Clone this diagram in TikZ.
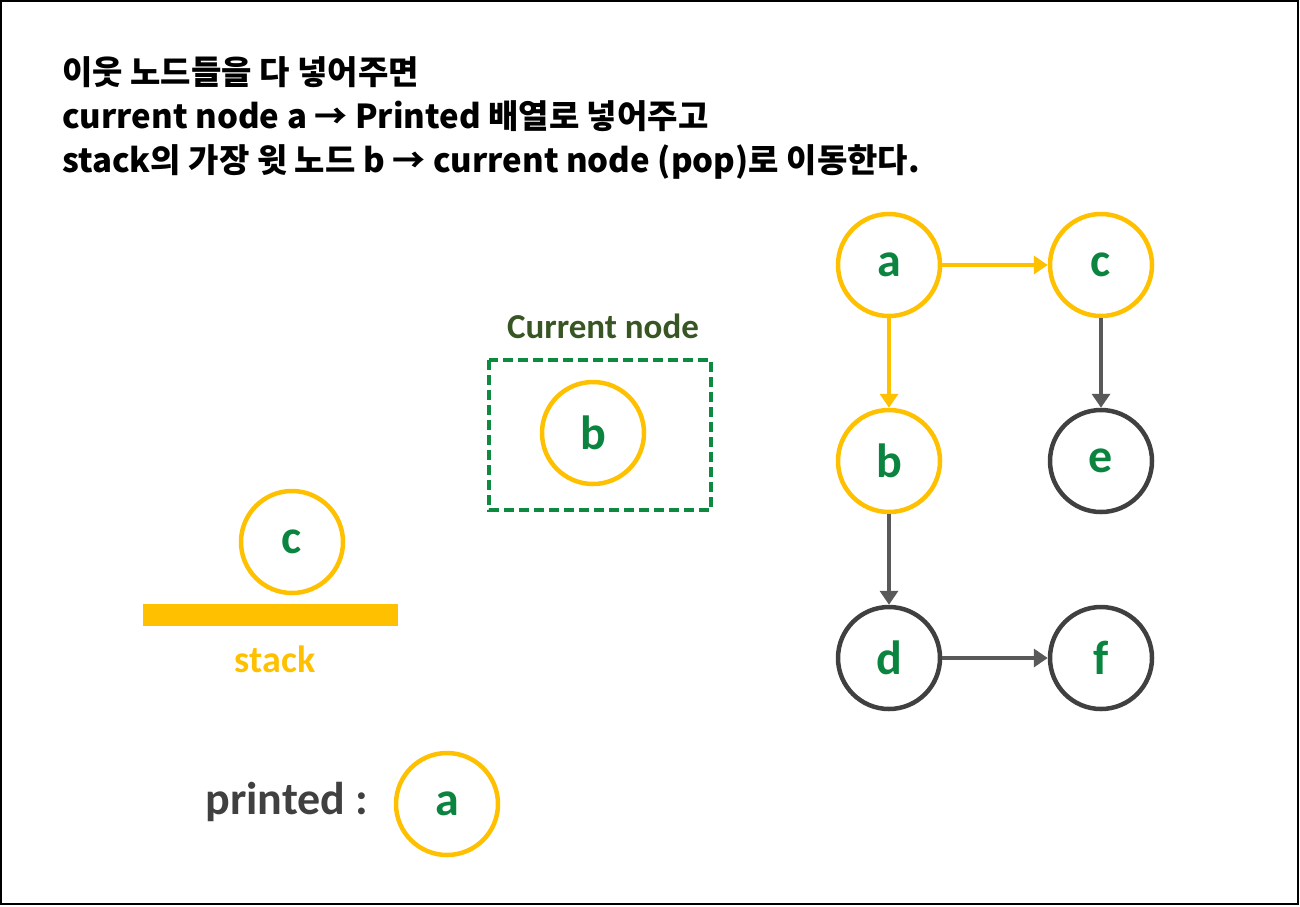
\documentclass[tikz,border=0pt]{standalone}
\usepackage{fontspec}
\setmainfont{Carlito}
\newfontfamily\kr{Noto Sans CJK KR}
\usetikzlibrary{arrows.meta}
\definecolor{ylw}{HTML}{FFC000}
\definecolor{grn}{HTML}{0B8440}
\definecolor{olive}{HTML}{375623}
\definecolor{dgray}{HTML}{404040}
\definecolor{agray}{HTML}{595959}
\definecolor{boxgrn}{HTML}{0E8A40}
\tikzset{
  yn/.style={circle, draw=ylw, line width=4.5pt, minimum size=102pt, inner sep=0pt, text=grn, font=\bfseries\fontsize{48}{48}\selectfont},
  gn/.style={yn, draw=dgray},
  yarr/.style={draw=ylw, line width=4pt, -{Triangle[length=14pt,width=18pt]}},
  garr/.style={draw=agray, line width=4pt, -{Triangle[length=14pt,width=18pt]}},
  hdr/.style={anchor=base west, inner sep=0pt, font=\kr\bfseries\fontsize{33}{33}\selectfont},
}
\begin{document}
\begin{tikzpicture}[x=1pt,y=-1pt]
\useasboundingbox (0,0) rectangle (1300,906);
\draw[line width=2pt] (1,1) rectangle (1298,904);
% header
\node[hdr] (h1) at (62,84) {이웃 노드들을 다 넣어주면};
\node[hdr] (h2) at (62,128) {current node a → Printed 배열로 넣어주고};
\node[hdr] (h3) at (62,172) {stack의 가장 윗 노드 b → current node (pop)로 이동한다.};
% graph
\node[yn] (a) at (889,265) {a};
\node[yn] (c) at (1101,265) {c};
\node[yn] (b) at (889,461) {b};
\node[gn] (e) at (1101,461) {e};
\node[gn] (d) at (889,658) {d};
\node[gn] (f) at (1101,658) {f};
\draw[yarr] (a) -- (c);
\draw[yarr] (a) -- (b);
\draw[garr] (c) -- (e);
\draw[garr] (b) -- (d);
\draw[garr] (d) -- (f);
% current node
\node[font=\bfseries\fontsize{35}{35}\selectfont, text=olive] (cl) at (603,326) {Current node};
\draw[boxgrn, line width=3.2pt, dash pattern=on 10pt off 5pt] (489,360) rectangle (711,510);
\node[yn] (cb) at (593,433) {b};
% stack
\node[yn] (sc) at (292,542) {c};
\fill[ylw] (143,604) rectangle (398,626);
\node[font=\bfseries\fontsize{38}{38}\selectfont, text=ylw] (sl) at (275,659) {stack};
% printed
\node[font=\bfseries\fontsize{46}{46}\selectfont, text=dgray] (pl) at (287,802) {printed :};
\node[yn] (pa) at (447,804) {a};
\end{tikzpicture}
\end{document}
